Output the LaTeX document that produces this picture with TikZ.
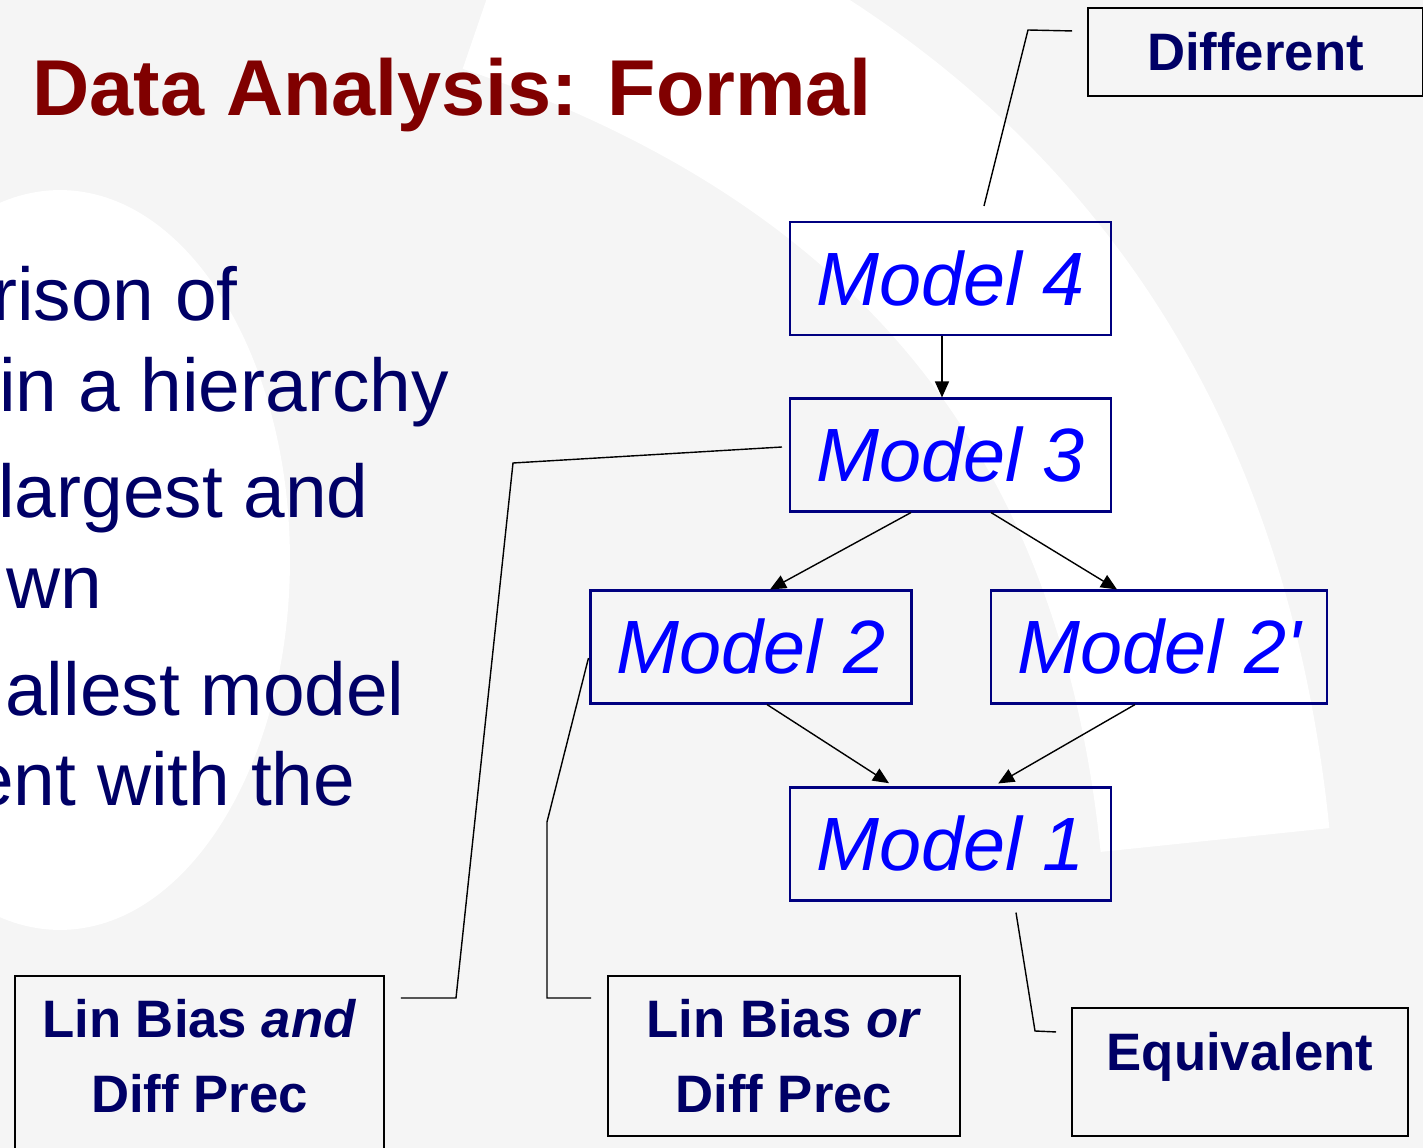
\documentclass[tikz,border=0pt]{standalone}
\usepackage{fontspec}
\setmainfont{Liberation Sans}
\usetikzlibrary{arrows.meta}
\definecolor{titlered}{RGB}{128,0,0}
\definecolor{navytext}{RGB}{0,0,102}
\definecolor{boxnavy}{RGB}{0,0,128}
\definecolor{modelblue}{RGB}{0,0,255}
\tikzset{
  model/.style={draw=boxnavy, line width=1.2pt, text=modelblue,
    font=\fontsize{43}{50}\selectfont\itshape,
    minimum width=6.42cm, minimum height=2.26cm, inner sep=0pt},
  note/.style={draw=black, line width=1.1pt, text=navytext, anchor=north west,
    font=\fontsize{30}{42.7}\selectfont\bfseries, inner sep=0pt, align=center},
  body/.style={text=navytext, font=\fontsize{42.6}{50}\selectfont,
    anchor=base west, inner sep=0pt},
  leader/.style={line width=0.8pt},
  flow/.style={line width=0.8pt, -{Triangle[length=0.32cm,width=0.28cm]}}
}
\begin{document}
\begin{tikzpicture}[x=0.02cm,y=-0.02cm]
 \useasboundingbox (0,0) rectangle (1423,1148);
 \clip (0,0) rectangle (1423,1148);
 % faint watermark behind the slide
 \fill[black!4] (0,0) rectangle (1423,1148);
 \draw[white, line width=4.6cm] (500,-40) .. controls (940,110) and (1170,400) .. (1215,840);
 \fill[white] (60,560) ellipse [x radius=4.6cm, y radius=7.4cm];

 % title and bullet text
 \node[anchor=base west, text=titlered, font=\fontsize{45.1}{50}\selectfont\bfseries, inner sep=0pt]
   (title) at (32,116) {Data Analysis: Formal};
 \node[body] (b1) at (-8,321) {rison of};
 \node[body] (b2) at (-1,412) {in a hierarchy};
 \node[body] (b3) at (-2,518) {largest and};
 \node[body] (b4) at (6,608) {wn};
 \node[body] (b5) at (5,715) {allest model};
 \node[body] (b6) at (-28,805) {ent with the};

 % model hierarchy
 \node[model] (m4) at (950.5,278.5) {Model 4};
 \node[model] (m3) at (950.5,455) {Model 3};
 \node[model] (m2) at (751,647) {Model 2};
 \node[model, minimum width=6.72cm] (m2p) at (1159,647) {Model 2\textquotesingle};
 \node[model] (m1) at (950.5,844) {Model 1};

 \draw[flow] ([xshift=-0.17cm]m4.south) -- ([xshift=-0.17cm]m3.north);
 \draw[flow] ([xshift=-0.79cm]m3.south) -- ([xshift=0.38cm]m2.north);
 \draw[flow] ([xshift=0.81cm]m3.south) -- ([xshift=-0.84cm]m2p.north);
 \draw[flow, shorten >=0.12cm] ([xshift=0.32cm]m2.south) -- ([xshift=-1.13cm]m1.north);
 \draw[flow, shorten >=0.12cm] ([xshift=-0.48cm]m2p.south) -- ([xshift=0.85cm]m1.north);

 % callouts
 \node[note, minimum width=6.7cm, text height=1.26cm, text depth=0.5cm] (diff) at (1087,7) {Different};
 \node[note, minimum width=7.38cm, text height=2.74cm, text depth=1.1cm] (lband) at (14,975) {Lin Bias \textit{and}\\Diff Prec};
 \node[note, minimum width=7.04cm, text height=2.74cm, text depth=0.46cm] (lbor) at (607,975) {Lin Bias \textit{or}\\Diff Prec};
 \node[note, minimum width=6.72cm, text height=1.26cm, text depth=1.3cm] (equiv) at (1071,1007) {Equivalent};

 \coordinate (diffk) at (1028,30);
 \coordinate (m3k) at (513,463);
 \coordinate (m3j) at (456,998);
 \coordinate (m2k) at (547,822);
 \coordinate (m2j) at (547,998);
 \coordinate (m1k) at (1035,1031);
 \draw[leader] ([xshift=-0.3cm,yshift=0.42cm]diff.west) -- (diffk) -- ([xshift=0.67cm,yshift=0.3cm]m4.north);
 \draw[leader] ([xshift=-0.14cm,yshift=0.16cm]m3.west) -- (m3k) -- (m3j) -- ([xshift=0.32cm,yshift=-0.46cm]lband.north east);
 \draw[leader] ([xshift=-0.02cm,yshift=-0.22cm]m2.west) -- (m2k) -- (m2j) -- ([xshift=-0.32cm,yshift=-0.46cm]lbor.north west);
 \draw[leader] ([xshift=1.31cm,yshift=-0.22cm]m1.south) -- (m1k) -- ([xshift=-0.3cm,yshift=0.8cm]equiv.west);
\end{tikzpicture}
\end{document}
